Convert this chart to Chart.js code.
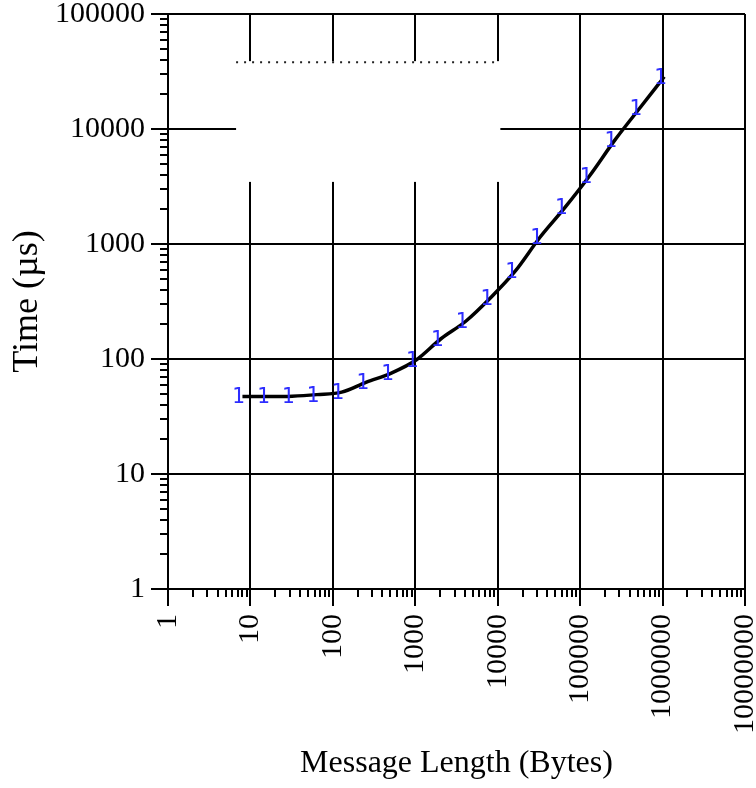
<!DOCTYPE html>
<html><head><meta charset="utf-8">
<script src="https://cdn.jsdelivr.net/npm/chart.js@4/dist/chart.umd.min.js"></script>
<style>html,body{margin:0;padding:0;background:#fff;overflow:hidden;}</style>
</head><body>
<canvas id="c" width="756" height="788"></canvas>
<script>
// ---- data ----
const messageLengths = [8,16,32,64,128,256,512,1024,2048,4096,8192,16384,32768,65536,131072,262144,524288,1048576];
const timesUs = [47.2,47.2,47.5,49,51.5,63,75.5,98,150,213,341,583,1150,2080,3940,7960,15080,28450];
const xTickValues = [1,10,100,1000,10000,100000,1000000,10000000];
const xTickLabels = ['1','10','100','1000','10000','100000','1000000','10000000'];
const yTickValues = [1,10,100,1000,10000,100000];
const yTickLabels = ['1','10','100','1000','10000','100000'];
const markerLabel = '1';
const xTitle = 'Message Length (Bytes)';
const yTitle = 'Time (\u00B5s)';

const SERIF = '"Liberation Serif", "Times New Roman", serif';

const minorTicks = {
  id: 'minorTicks',
  afterDraw(chart) {
    const ctx = chart.ctx, ca = chart.chartArea;
    const xs = chart.scales.x, ys = chart.scales.y;
    ctx.save();
    ctx.strokeStyle = '#000';
    ctx.lineWidth = 2;
    ctx.beginPath();
    xTickValues.forEach((d, i) => {
      for (let m = 1; m <= 9; m++) {
        if (i === xTickValues.length - 1 && m > 1) break;
        const px = Math.round(xs.getPixelForValue(m * d));
        const len = m === 1 ? 17 : 8;
        ctx.moveTo(px, ca.bottom);
        ctx.lineTo(px, ca.bottom + len);
      }
    });
    yTickValues.forEach((d, i) => {
      for (let m = 1; m <= 9; m++) {
        if (i === yTickValues.length - 1 && m > 1) break;
        const py = Math.round(ys.getPixelForValue(m * d));
        const len = m === 1 ? 17 : 8;
        ctx.moveTo(ca.left, py);
        ctx.lineTo(ca.left - len, py);
      }
    });
    ctx.stroke();
    ctx.restore();
  }
};

const legendBox = {
  id: 'legendBox',
  beforeDatasetsDraw(chart) {
    const ctx = chart.ctx, ca = chart.chartArea;
    const w = ca.right - ca.left, h = ca.bottom - ca.top;
    const l = ca.left + 0.118 * w, r = ca.left + 0.576 * w;
    const t = ca.top + 0.082 * h, b = ca.top + 0.292 * h;
    ctx.save();
    ctx.fillStyle = '#fff';
    ctx.fillRect(l, t, r - l, b - t);
    ctx.strokeStyle = '#222';
    ctx.lineWidth = 2;
    ctx.setLineDash([2, 6]);
    ctx.beginPath();
    ctx.moveTo(l, t + 1);
    ctx.lineTo(r - 4, t + 1);
    ctx.stroke();
    ctx.restore();
  }
};

const markers = {
  id: 'markers',
  afterDatasetsDraw(chart) {
    const ctx = chart.ctx;
    const meta = chart.getDatasetMeta(0);
    ctx.save();
    ctx.fillStyle = 'rgb(45,45,255)';
    ctx.font = '21px "DejaVu Sans Mono", monospace';
    ctx.textAlign = 'center';
    ctx.textBaseline = 'alphabetic';
    meta.data.forEach(pt => ctx.fillText(markerLabel, pt.x - 4, pt.y + 7));
    ctx.restore();
  }
};

new Chart(document.getElementById('c'), {
  type: 'line',
  data: {
    datasets: [{
      data: messageLengths.map((x, i) => ({x: x, y: timesUs[i]})),
      borderColor: '#000',
      borderWidth: 3.5,
      pointRadius: 0,
      cubicInterpolationMode: 'monotone',
      fill: false
    }]
  },
  options: {
    responsive: false,
    animation: false,
    devicePixelRatio: 1,
    layout: {padding: {left: 0, right: 11, top: 14, bottom: 0}},
    plugins: {legend: {display: false}, tooltip: {enabled: false}},
    scales: {
      x: {
        type: 'logarithmic',
        min: 1, max: 10000000,
        afterBuildTicks: s => { s.ticks = xTickValues.map(v => ({value: v})); },
        afterFit: s => { s.height = 199; s.paddingLeft = 0; s.paddingRight = 0; },
        ticks: {
          autoSkip: false, minRotation: 90, maxRotation: 90, padding: 25,
          color: '#000', font: {family: SERIF, size: 30},
          callback: (v, i) => xTickLabels[i]
        },
        grid: {color: '#000', lineWidth: 2, drawTicks: false},
        border: {display: true, color: '#000', width: 2},
        title: {display: true, text: xTitle, color: '#000', font: {family: SERIF, size: 32}, padding: {top: 0, bottom: 5}}
      },
      y: {
        type: 'logarithmic',
        min: 1, max: 100000,
        afterBuildTicks: s => { s.ticks = yTickValues.map(v => ({value: v})); },
        afterFit: s => { s.width = 168; s.paddingTop = 0; s.paddingBottom = 0; },
        ticks: {
          autoSkip: false, padding: 23,
          color: '#000', font: {family: SERIF, size: 30},
          callback: (v, i) => yTickLabels[i]
        },
        grid: {color: '#000', lineWidth: 2, drawTicks: false},
        border: {display: true, color: '#000', width: 2},
        title: {display: true, text: yTitle, color: '#000', font: {family: SERIF, size: 36}, padding: {top: 6, bottom: 0}}
      }
    }
  },
  plugins: [minorTicks, legendBox, markers]
});
</script>
</body></html>
